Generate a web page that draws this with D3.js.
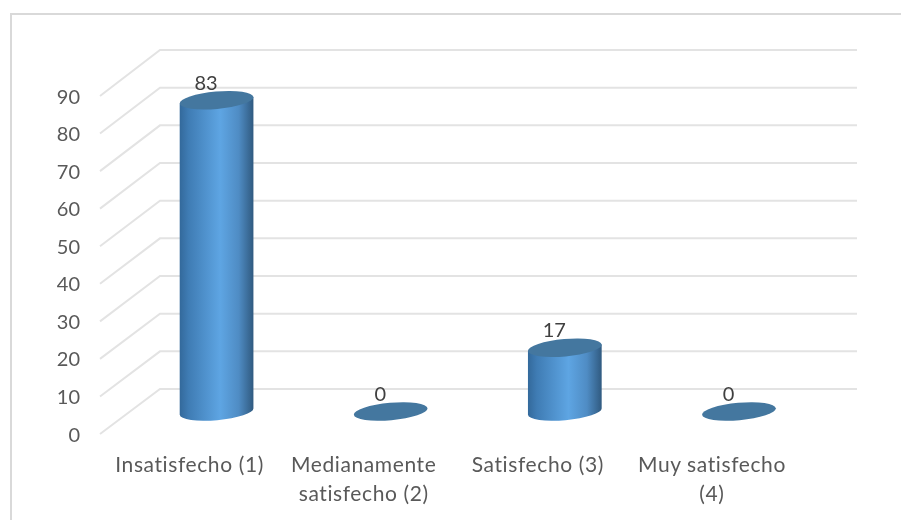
<!DOCTYPE html>
<html>
<head>
<meta charset="utf-8">
<script src="https://cdn.jsdelivr.net/npm/d3@7/dist/d3.min.js"></script>
<style>
  html, body { margin: 0; padding: 0; background: #fff; }
  svg { display: block; }
  text { font-family: Lato, "Open Sans", sans-serif; }
</style>
</head>
<body>
<div id="chart"></div>
<script>
var categories = [['Insatisfecho (1)'], ['Medianamente', 'satisfecho (2)'], ['Satisfecho (3)'], ['Muy satisfecho', '(4)']];
var values = [83, 0, 17, 0];
var valueTicks = [0, 10, 20, 30, 40, 50, 60, 70, 80, 90];

var width = 901, height = 520;

var svg = d3.select('#chart').append('svg')
    .attr('width', width)
    .attr('height', height);

// frame of the chart area, only top and left are inside the picture
svg.append('path')
    .attr('fill', 'none')
    .attr('stroke', '#d9d9d9')
    .attr('stroke-width', 2)
    .attr('d', 'M11,520V14H901');

var plot = svg.append('g').style('filter', 'blur(0.4px)');

// three planes of the fake 3d box: front edge, bars, back wall
var yFront = d3.scaleLinear().domain([0, 90]).range([434, 96]);
var yBack = d3.scaleLinear().domain([0, 90]).range([389, 50]);
var yBar = d3.scaleLinear().domain([0, 90]).range([411.5, 74]);
var x = d3.scaleBand()
    .domain(d3.range(categories.length))
    .range([129.5, 826]);

var grad = svg.append('defs').append('linearGradient').attr('id', 'cyl');
[[0, '#33699b'], [0.12, '#3f7cb4'], [0.55, '#5ea5e3'], [0.8, '#4f8cc4'], [1, '#305a80']].forEach(function(s) {
    grad.append('stop').attr('offset', s[0]).attr('stop-color', s[1]);
});

// gridlines
plot.append('g').selectAll('path').data(valueTicks).enter().append('path')
    .attr('fill', 'none')
    .attr('stroke', '#e3e3e3')
    .attr('stroke-width', 2)
    .attr('d', function(d) {
        return 'M100,' + yFront(d) + 'L160,' + yBack(d) + 'L857,' + yBack(d);
    });

// value axis labels
plot.append('g').selectAll('text').data(valueTicks).enter().append('text')
    .attr('x', 80)
    .attr('y', function(d) { return yFront(d) + 7.5; })
    .attr('text-anchor', 'end')
    .attr('fill', '#595959')
    .style('font-size', '20px')
    .text(function(d) { return d; });

// cylinders
var rx = 37, ry = 8.7, tilt = 5;
var dx = rx * Math.cos(tilt * Math.PI / 180), dy = rx * Math.sin(tilt * Math.PI / 180);

var bars = plot.append('g').selectAll('g').data(values).enter().append('g')
    .attr('transform', function(d, i) {
        return 'translate(' + (x(i) + x.bandwidth() / 2) + ',0)';
    });

bars.filter(function(d) { return d > 0; }).append('path')
    .attr('fill', 'url(#cyl)')
    .attr('d', function(d) {
        var top = yBar(d), bottom = yBar(0);
        return 'M' + (-dx) + ',' + (top + dy) +
            'L' + (-dx) + ',' + (bottom + dy) +
            'A' + rx + ',' + ry + ',' + (-tilt) + ',0,0,' + dx + ',' + (bottom - dy) +
            'L' + dx + ',' + (top - dy) + 'Z';
    });

bars.append('ellipse')
    .attr('rx', rx)
    .attr('ry', ry)
    .attr('fill', '#44779f')
    .attr('transform', function(d) {
        return 'translate(0,' + yBar(d) + ') rotate(' + (-tilt) + ')';
    });

// data labels
bars.append('text')
    .attr('x', -10.5)
    .attr('y', function(d) { return yBar(d) - 10.5; })
    .attr('text-anchor', 'middle')
    .attr('fill', '#404040')
    .style('font-size', '20px')
    .text(function(d) { return d; });

// category labels
var catLabels = plot.append('g').selectAll('text').data(categories).enter().append('text')
    .attr('text-anchor', 'middle')
    .attr('fill', '#595959')
    .style('font-size', '21px')
    .style('letter-spacing', '0.6px')
    .attr('transform', function(d, i) {
        return 'translate(' + (x(i) + x.bandwidth() / 2 - 27) + ',472)';
    });

catLabels.selectAll('tspan').data(function(d) { return d; }).enter().append('tspan')
    .attr('x', 0)
    .attr('y', function(d, i) { return i * 29; })
    .text(function(d) { return d; });
</script>
</body>
</html>
